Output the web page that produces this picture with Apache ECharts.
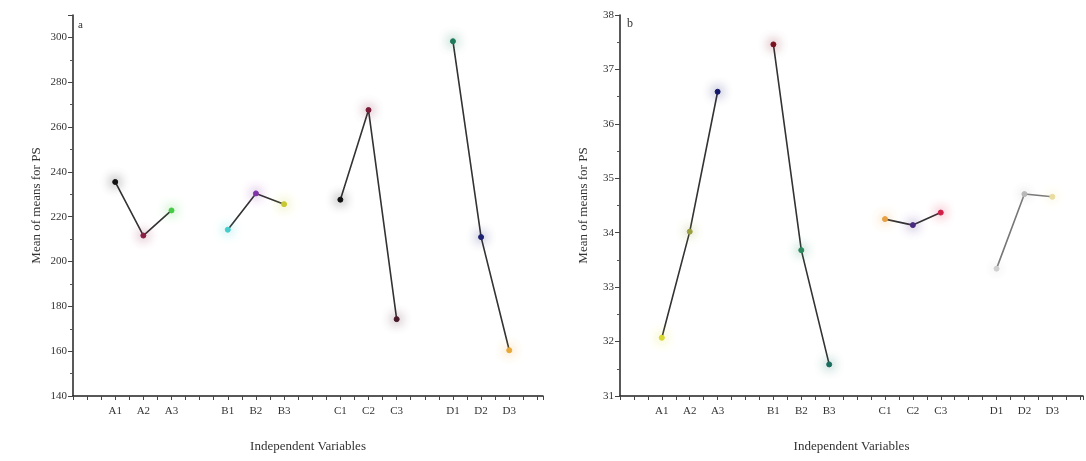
<!DOCTYPE html>
<html>
<head>
<meta charset="utf-8">
<script src="https://cdn.jsdelivr.net/npm/echarts@6/dist/echarts.min.js"></script>
<style>html,body{margin:0;padding:0;background:#fff}#c{width:1086px;height:461px}</style>
</head>
<body>
<div id="c"></div>
<script>
// Categories grouped by factor; x positions leave one empty slot between groups
const groups = [["A1","A2","A3"],["B1","B2","B3"],["C1","C2","C3"],["D1","D2","D3"]];
const yTicksA = [140,160,180,200,220,240,260,280,300];
const yTicksB = [31,32,33,34,35,36,37,38];

// Panel a values (Mean of means for PS)
const valuesA = [
  [235.5, 211.6, 222.8],
  [214.2, 230.4, 225.6],
  [227.6, 267.6, 174.3],
  [298.3, 210.9, 160.4]
];
// Panel b values
const valuesB = [
  [32.07, 34.02, 36.59],
  [37.46, 33.68, 31.58],
  [34.25, 34.14, 34.37],
  [33.34, 34.71, 34.66]
];
const colorsA = [
  ["#111111","#8a1f45","#44cc44"],
  ["#44cccc","#8030a8","#c8c830"],
  ["#111111","#7a1c3a","#4a1a2a"],
  ["#1f7a5c","#1e2270","#e8a838"]
];
const colorsB = [
  ["#d8d830","#9aa040","#14186a"],
  ["#7a1020","#2a8a5e","#1a6e5e"],
  ["#e8a040","#4a2a80","#d02048"],
  ["#d0d0d0","#b8b8b8","#e8dca0"]
];
const lineColorsB = ["#333","#333","#333","#777"];

const labelMap = {};
groups.forEach((g, gi) => g.forEach((c, ci) => { labelMap[gi * 4 + ci] = c; }));

function seriesFor(vals, cols, gridIdx, lineCols) {
  return vals.map((gv, gi) => ({
    type: 'line',
    xAxisIndex: gridIdx, yAxisIndex: gridIdx,
    data: gv.map((v, ci) => ({
      value: [gi * 4 + ci, v],
      itemStyle: { color: cols[gi][ci], borderColor: cols[gi][ci], shadowBlur: 12, shadowColor: cols[gi][ci] }
    })),
    symbol: 'circle', symbolSize: 5,
    lineStyle: { color: lineCols ? lineCols[gi] : '#333', width: 1.6 },
    z: 3
  }));
}

const font = '"Liberation Serif", "DejaVu Serif", serif';
function xAxis(gridIdx, max) {
  return {
    type: 'value', gridIndex: gridIdx, min: -1.5, max: max, interval: 0.5,
    name: 'Independent Variables', nameLocation: 'middle', nameGap: 44,
    nameTextStyle: { fontFamily: font, fontSize: 13, color: '#333' },
    axisLine: { onZero: false, lineStyle: { color: '#222', width: 1.5 } },
    axisTick: { inside: false, length: 4, lineStyle: { color: '#444', width: 1 } },
    axisLabel: {
      fontFamily: font, fontSize: 11, color: '#333', margin: 10,
      formatter: v => (Math.abs(v - Math.round(v)) < 1e-6 && labelMap[Math.round(v)]) ? labelMap[Math.round(v)] : ''
    },
    splitLine: { show: false }
  };
}
function yAxis(gridIdx, ticks) {
  const interval = ticks[1] - ticks[0];
  return {
    type: 'value', gridIndex: gridIdx, min: ticks[0],
    max: gridIdx === 0 ? 310 : ticks[ticks.length - 1], interval: interval,
    name: 'Mean of means for PS', nameLocation: 'middle', nameGap: 30, nameRotate: 90,
    nameTextStyle: { fontFamily: font, fontSize: 13, color: '#333' },
    axisLine: { show: true, onZero: false, lineStyle: { color: '#222', width: 1.5 } },
    axisTick: { show: true, length: 5, lineStyle: { color: '#444', width: 1 } },
    minorTick: { show: true, splitNumber: 2, length: 3, lineStyle: { color: '#555' } },
    axisLabel: { fontFamily: font, fontSize: 11, color: '#333', margin: 6, showMaxLabel: gridIdx !== 0,
      formatter: v => ticks.indexOf(v) >= 0 ? String(v) : '' },
    splitLine: { show: false }
  };
}

const chart = echarts.init(document.getElementById('c'), null, { renderer: 'canvas' });
chart.setOption({
  backgroundColor: '#fff',
  animation: false,
  grid: [
    { left: 73, top: 15, width: 470, height: 381 },
    { left: 620, top: 15, width: 465, height: 381 }
  ],
  xAxis: [xAxis(0, 15.2), xAxis(1, 15.1)],
  yAxis: [yAxis(0, yTicksA), yAxis(1, yTicksB)],
  graphic: [
    { type: 'text', left: 78, top: 20, style: { text: 'a', font: '11px ' + font, fill: '#333' } },
    { type: 'text', left: 627, top: 18, style: { text: 'b', font: '12px ' + font, fill: '#333' } }
  ],
  series: [...seriesFor(valuesA, colorsA, 0), ...seriesFor(valuesB, colorsB, 1, lineColorsB)]
});
</script>
</body>
</html>
